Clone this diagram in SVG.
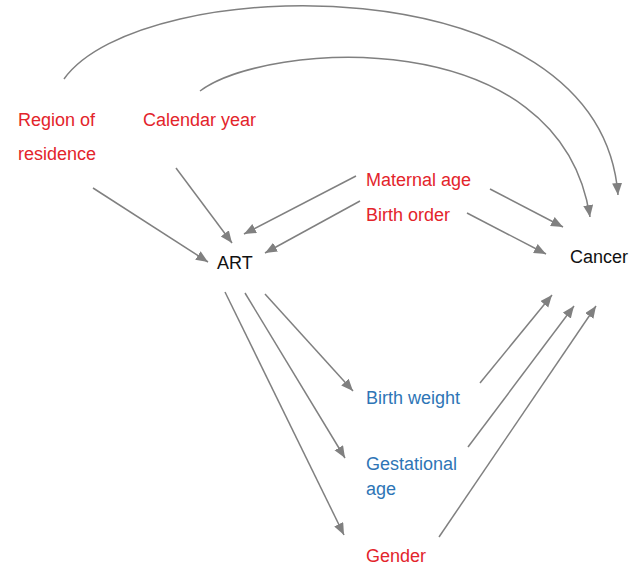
<svg xmlns="http://www.w3.org/2000/svg" width="632" height="567" viewBox="0 0 632 567">
<style>
text{font-family:"Liberation Sans",Arial,sans-serif;font-size:18px}
.red{fill:#e3242b}
.blue{fill:#2e75b6}
.blk{fill:#111}
.c{fill:none;stroke:#808080;stroke-width:1.5;marker-end:url(#ah)}
</style>
<defs>
<marker id="ah" markerUnits="userSpaceOnUse" markerWidth="13" markerHeight="11" refX="12" refY="5" orient="auto">
<path d="M0,0 L12,5 L0,10 z" fill="#808080"/>
</marker>
</defs>
<rect width="632" height="567" fill="#fff"/>
<g id="connectors">
<path class="c" d="M64,79 C140,-28 600,-40 618,195"/>
<path class="c" d="M200,91 C265,42 560,20 590,217"/>
<path class="c" d="M93,188 L208,262"/>
<path class="c" d="M176,168 L232,243"/>
<path class="c" d="M356,176 L244,234"/>
<path class="c" d="M360,201 L265,253"/>
<path class="c" d="M490,189 L563,227"/>
<path class="c" d="M467,213 L546,254"/>
<path class="c" d="M265,294 L353,391"/>
<path class="c" d="M245,293 L345,458"/>
<path class="c" d="M225,292 L344,535"/>
<path class="c" d="M480,383 L552,295"/>
<path class="c" d="M468,447 L574,306"/>
<path class="c" d="M439,537 L596,306"/>
</g>
<g id="region"><text class="red" x="18" y="126">Region of</text><text class="red" x="18" y="160">residence</text></g>
<g id="calendar"><text class="red" x="143" y="126">Calendar year</text></g>
<g id="maternal"><text class="red" x="366" y="186">Maternal age</text></g>
<g id="birthorder"><text class="red" x="366" y="221">Birth order</text></g>
<g id="art"><text class="blk" x="217" y="269">ART</text></g>
<g id="cancer"><text class="blk" x="570" y="263">Cancer</text></g>
<g id="birthweight"><text class="blue" x="366" y="404">Birth weight</text></g>
<g id="gestational"><text class="blue" x="366" y="470">Gestational</text><text class="blue" x="366" y="495">age</text></g>
<g id="gender"><text class="red" x="366" y="562">Gender</text></g>
</svg>
